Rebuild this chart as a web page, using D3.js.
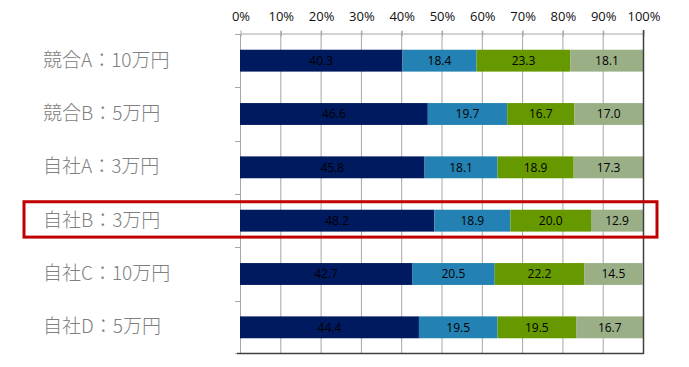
<!DOCTYPE html>
<html><head><meta charset="utf-8">
<script src="https://cdn.jsdelivr.net/npm/d3@7"></script>
<style>body{margin:0;background:#fff}svg{display:block}</style>
</head><body>
<svg id="c" width="689" height="367"></svg>
<script>
const categories = ["競合A：10万円","競合B：5万円","自社A：3万円","自社B：3万円","自社C：10万円","自社D：5万円"];
const s1 = [40.3, 46.6, 45.8, 48.2, 42.7, 44.4];
const s2 = [18.4, 19.7, 18.1, 18.9, 20.5, 19.5];
const s3 = [23.3, 16.7, 18.9, 20.0, 22.2, 19.5];
const s4 = [18.1, 17.0, 17.3, 12.9, 14.5, 16.7];
const tickLabels = [0,10,20,30,40,50,60,70,80,90,100];
const highlighted = "自社B：3万円";

const colors = ["#001A5F","#2381B3","#669900","#9BAF87"];
const series = [s1,s2,s3,s4];

(function(){
const svg = d3.select("#c");
const L = 240, R = 643, T = 34, B = 354;
const x = d3.scaleLinear().domain([0,100]).range([L,R]);
const y = d3.scaleBand().domain(categories).range([T,B]).paddingInner(0.59).paddingOuter(0.295);
const yb = d3.scaleBand().domain(categories).range([T,B]);

// gridlines
svg.append("g").selectAll("line").data(tickLabels.slice(1,-1)).join("line")
  .attr("x1",d=>x(d)+0.5).attr("x2",d=>x(d)+0.5).attr("y1",T-3).attr("y2",B)
  .attr("stroke","#A6A6A6").attr("stroke-width",1);

// top axis
const topAxis = svg.append("g").attr("transform",`translate(0.5,${T-0.5})`)
  .call(d3.axisTop(x).tickValues(tickLabels).tickFormat(d=>d+"%").tickSizeInner(3).tickSizeOuter(0));
topAxis.select(".domain").attr("stroke","#A6A6A6");
topAxis.selectAll(".tick line").attr("stroke","#A6A6A6").attr("y2",-3).attr("y1",3);
topAxis.selectAll(".tick text").attr("font-family","'Open Sans','Noto Sans',sans-serif").attr("font-size",13)
  .attr("fill","#111").attr("y",-13);

// left axis line and ticks
svg.append("line").attr("x1",L+0.5).attr("x2",L+0.5).attr("y1",T).attr("y2",B).attr("stroke","#A6A6A6");
svg.append("g").selectAll("line").data(categories).join("line")
  .attr("x1",L-5).attr("x2",L).attr("y1",d=>Math.round(yb(d))+0.5).attr("y2",d=>Math.round(yb(d))+0.5)
  .attr("stroke","#A6A6A6");
svg.append("line").attr("x1",L-5).attr("x2",L).attr("y1",B-0.5).attr("y2",B-0.5).attr("stroke","#A6A6A6");

// stacked bars
const stacked = categories.map((c,i)=>{
  let acc = 0;
  return series.map((s,k)=>{ const v=s[i]; const o={c,k,v,x0:acc,x1:acc+v}; acc+=v; return o; });
}).flat();
svg.append("g").selectAll("rect").data(stacked).join("rect")
  .attr("x",d=>x(d.x0)).attr("width",d=>x(d.x1)-x(d.x0))
  .attr("y",d=>y(d.c)).attr("height",y.bandwidth())
  .attr("fill",d=>colors[d.k]);
svg.append("g").selectAll("text").data(stacked).join("text")
  .attr("x",d=>x((d.x0+d.x1)/2)).attr("y",d=>y(d.c)+y.bandwidth()/2)
  .attr("dy","0.36em").attr("text-anchor","middle")
  .attr("font-family","'Open Sans','Noto Sans',sans-serif").attr("font-size",12)
  .attr("fill","#000").text(d=>d.v.toFixed(1));

// right and bottom borders
svg.append("line").attr("x1",R+0.5).attr("x2",R+0.5).attr("y1",T-4).attr("y2",B).attr("stroke","#404040").attr("stroke-width",1.5);
svg.append("line").attr("x1",L-3).attr("x2",R+1).attr("y1",B-0.5).attr("y2",B-0.5).attr("stroke","#404040").attr("stroke-width",1.5);

// category labels
svg.append("g").selectAll("text").data(categories).join("text")
  .attr("x",43).attr("y",d=>y(d)+y.bandwidth()/2 - 1).attr("dy","0.36em")
  .attr("font-family","'Noto Sans CJK JP',sans-serif").attr("font-size",19).attr("font-weight",300)
  .attr("fill","#808080").text(d=>d);

// highlight box
svg.append("rect").attr("x",24).attr("y",y(highlighted)-8).attr("width",633).attr("height",y.bandwidth()+13.5)
  .attr("fill","none").attr("stroke","#C00000").attr("stroke-width",3);
})();
</script>
</body></html>
